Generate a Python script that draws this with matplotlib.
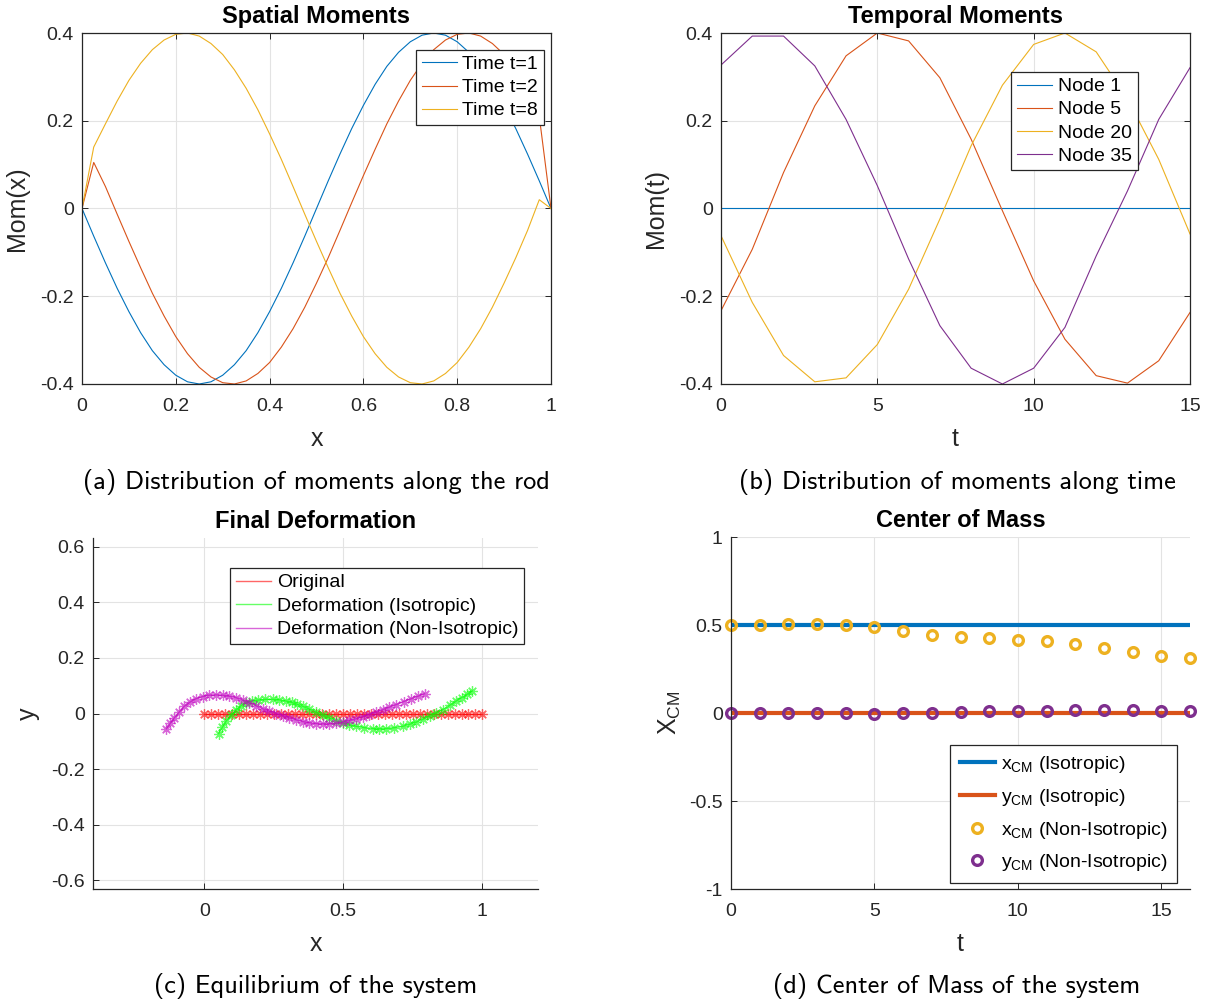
import numpy as np
import matplotlib
matplotlib.use('Agg')
from matplotlib import pyplot as plt

plt.rcParams['font.family'] = ['Liberation Sans', 'DejaVu Sans']
plt.rcParams['mathtext.fontset'] = 'custom'
plt.rcParams['mathtext.rm'] = 'Liberation Sans'
plt.rcParams['mathtext.it'] = 'Liberation Sans:italic'
plt.rcParams['mathtext.bf'] = 'Liberation Sans:bold'

# matlab default colour order
C_BLUE = '#0072BD'
C_ORANGE = '#D95319'
C_YELLOW = '#EDB120'
C_PURPLE = '#7E2F8E'
AX_COL = '#262626'
GRID_COL = '#e3e3e3'

# =============================================================================
# data
# =============================================================================
# rod nodes (41 nodes along x in [0,1])
x_nodes = np.linspace(0, 1, 41)

# spatial moments at three time steps
mom_t1 = [0.0, -0.063, -0.124, -0.182, -0.235, -0.283, -0.324, -0.356, -0.380, -0.395,
          -0.400, -0.395, -0.380, -0.356, -0.324, -0.283, -0.235, -0.182, -0.124, -0.063,
          0.0, 0.063, 0.124, 0.182, 0.235, 0.283, 0.324, 0.356, 0.380, 0.395,
          0.400, 0.395, 0.380, 0.356, 0.324, 0.283, 0.235, 0.182, 0.124, 0.063, 0.0]
mom_t2 = [0.0, 0.105, 0.050, -0.013, -0.075, -0.135, -0.193, -0.245, -0.292, -0.331,
          -0.362, -0.384, -0.397, -0.400, -0.393, -0.376, -0.351, -0.316, -0.274, -0.225,
          -0.170, -0.112, -0.050, 0.013, 0.075, 0.135, 0.193, 0.245, 0.292, 0.331,
          0.362, 0.384, 0.397, 0.400, 0.393, 0.376, 0.351, 0.316, 0.274, 0.210, 0.0]
mom_t8 = [0.0, 0.140, 0.193, 0.245, 0.292, 0.331, 0.362, 0.384, 0.397, 0.400,
          0.393, 0.376, 0.351, 0.316, 0.274, 0.225, 0.170, 0.112, 0.050, -0.013,
          -0.075, -0.135, -0.193, -0.245, -0.292, -0.331, -0.362, -0.384, -0.397, -0.400,
          -0.393, -0.376, -0.351, -0.316, -0.274, -0.225, -0.170, -0.112, -0.050, 0.020, 0.0]

# temporal moments at four nodes
t_steps = list(range(16))
mom_n1 = [0.0] * 16
mom_n5 = [-0.233, -0.093, 0.082, 0.234, 0.348, 0.400, 0.382, 0.298,
          0.158, -0.005, -0.165, -0.298, -0.381, -0.398, -0.347, -0.237]
mom_n20 = [-0.062, -0.214, -0.335, -0.395, -0.386, -0.310, -0.184, -0.024,
           0.143, 0.281, 0.374, 0.400, 0.357, 0.250, 0.112, -0.058]
mom_n35 = [0.327, 0.393, 0.393, 0.325, 0.203, 0.052, -0.115, -0.267,
           -0.364, -0.400, -0.364, -0.271, -0.108, 0.040, 0.203, 0.321]

# final deformation of the rod
orig_y = [0.0] * 41
iso_x = [0.052, 0.065, 0.078, 0.096, 0.114, 0.132, 0.150, 0.171, 0.192, 0.219,
         0.246, 0.270, 0.294, 0.314, 0.334, 0.354, 0.378, 0.402, 0.426, 0.450,
         0.474, 0.498, 0.522, 0.546, 0.576, 0.606, 0.630, 0.654, 0.684, 0.714,
         0.738, 0.762, 0.786, 0.810, 0.834, 0.858, 0.882, 0.906, 0.925, 0.945, 0.964]
iso_y = [-0.072, -0.050, -0.028, -0.007, 0.014, 0.028, 0.039, 0.045, 0.048, 0.051,
         0.051, 0.049, 0.045, 0.040, 0.033, 0.026, 0.016, 0.005, -0.006, -0.016,
         -0.026, -0.034, -0.041, -0.046, -0.051, -0.054, -0.055, -0.054, -0.051, -0.046,
         -0.039, -0.031, -0.021, -0.010, 0.002, 0.014, 0.029, 0.045, 0.057, 0.069, 0.081]
aniso_x = [-0.136, -0.122, -0.108, -0.090, -0.072, -0.051, -0.030, -0.006, 0.018, 0.042,
           0.066, 0.090, 0.114, 0.138, 0.162, 0.186, 0.210, 0.234, 0.258, 0.282,
           0.306, 0.330, 0.354, 0.378, 0.402, 0.426, 0.450, 0.474, 0.498, 0.522,
           0.546, 0.570, 0.594, 0.618, 0.642, 0.666, 0.690, 0.717, 0.744, 0.768, 0.792]
aniso_y = [-0.055, -0.035, -0.016, 0.005, 0.026, 0.041, 0.053, 0.061, 0.066, 0.067,
           0.066, 0.062, 0.057, 0.048, 0.039, 0.028, 0.017, 0.008, 0.000, -0.008,
           -0.016, -0.023, -0.029, -0.033, -0.036, -0.037, -0.037, -0.035, -0.031, -0.025,
           -0.019, -0.012, -0.004, 0.005, 0.014, 0.023, 0.032, 0.043, 0.053, 0.062, 0.071]

# centre of mass history
t_cm = list(range(17))
xcm_iso = [0.5] * 17
ycm_iso = [0.0] * 17
xcm_aniso = [0.500, 0.500, 0.504, 0.507, 0.500, 0.487, 0.468, 0.445, 0.432,
             0.424, 0.416, 0.407, 0.390, 0.369, 0.344, 0.325, 0.312]
ycm_aniso = [0.000, -0.002, -0.002, -0.002, -0.002, -0.003, -0.002, 0.002, 0.006,
             0.009, 0.011, 0.013, 0.015, 0.017, 0.015, 0.012, 0.010]

# =============================================================================
# figure
# =============================================================================
W, H = 1209, 1005
fig = plt.figure(figsize=(W / 100, H / 100), dpi=100)


def px_axes(left, top, right, bottom):
    # axes placed from pixel edges
    return fig.add_axes([left / W, 1 - bottom / H, (right - left) / W, (bottom - top) / H])


def style_axes(ax, box=True):
    ax.grid(True, color=GRID_COL, lw=0.8)
    ax.set_axisbelow(True)
    for s in ax.spines.values():
        s.set_color(AX_COL)
        s.set_linewidth(0.9)
    if not box:
        ax.spines['top'].set_visible(False)
        ax.spines['right'].set_visible(False)
    ax.tick_params(direction='in', length=4, width=0.7, colors=AX_COL,
                   labelsize=14, top=box, right=box)
    ax.tick_params(axis='x', pad=10)
    ax.tick_params(axis='y', pad=6)


def legend(ax, loc, anchor, spacing=0.28, bpad=0.3, **kw):
    lg = ax.legend(loc=loc, bbox_to_anchor=anchor, borderaxespad=0, fontsize=14,
                   fancybox=False, framealpha=1, edgecolor=AX_COL, handlelength=1.8,
                   handletextpad=0.3, labelspacing=spacing, borderpad=bpad, **kw)
    lg.get_frame().set_linewidth(0.9)
    return lg


TITLE_KW = dict(fontsize=17, fontweight='bold', pad=7)
LABEL_KW = dict(fontsize=18, color=AX_COL)
CAP_KW = dict(fontsize=19, family='cmss10', ha='center', va='center')

# (a) spatial moments
ax = px_axes(82, 33, 551, 384)
ax.plot(x_nodes, mom_t1, color=C_BLUE, lw=0.8, label='Time t=1')
ax.plot(x_nodes, mom_t2, color=C_ORANGE, lw=0.8, label='Time t=2')
ax.plot(x_nodes, mom_t8, color=C_YELLOW, lw=0.8, label='Time t=8')
ax.set_xlim(0, 1)
ax.set_ylim(-0.4, 0.4)
ax.set_xticks([0, 0.2, 0.4, 0.6, 0.8, 1])
ax.set_xticklabels(['0', '0.2', '0.4', '0.6', '0.8', '1'])
ax.set_yticks([-0.4, -0.2, 0, 0.2, 0.4])
ax.set_yticklabels(['-0.4', '-0.2', '0', '0.2', '0.4'])
style_axes(ax)
ax.set_title('Spatial Moments', **TITLE_KW)
ax.set_xlabel('x', labelpad=9, **LABEL_KW)
ax.set_ylabel('Mom(x)', labelpad=8, **LABEL_KW)
legend(ax, 'upper right', (0.985, 0.952))

# (b) temporal moments
ax = px_axes(721, 33, 1190, 384)
ax.plot(t_steps, mom_n1, color=C_BLUE, lw=0.8, label='Node 1')
ax.plot(t_steps, mom_n5, color=C_ORANGE, lw=0.8, label='Node 5')
ax.plot(t_steps, mom_n20, color=C_YELLOW, lw=0.8, label='Node 20')
ax.plot(t_steps, mom_n35, color=C_PURPLE, lw=0.8, label='Node 35')
ax.set_xlim(0, 15)
ax.set_ylim(-0.4, 0.4)
ax.set_xticks([0, 5, 10, 15])
ax.set_yticks([-0.4, -0.2, 0, 0.2, 0.4])
ax.set_yticklabels(['-0.4', '-0.2', '0', '0.2', '0.4'])
style_axes(ax)
ax.set_title('Temporal Moments', **TITLE_KW)
ax.set_xlabel('t', labelpad=9, **LABEL_KW)
ax.set_ylabel('Mom(t)', labelpad=8, **LABEL_KW)
legend(ax, 'upper right', (0.889, 0.889))

# (c) final deformation
ax = px_axes(93, 538, 538, 889)
ast = (8, 2, 0)
ax.plot(x_nodes, orig_y, color='r', alpha=0.6, lw=1, marker=ast, ms=7.5, mew=0.9,
        label='Original')
ax.plot(iso_x, iso_y, color='#00ff00', alpha=0.6, lw=1, marker=ast, ms=7.5, mew=0.9,
        label='Deformation (Isotropic)')
ax.plot(aniso_x, aniso_y, color='m', alpha=0.6, lw=1, marker=ast, ms=7.5, mew=0.9,
        label='Deformation (Non-Isotropic)')
ax.set_xlim(-0.4, 1.2)
ax.set_ylim(-0.631, 0.631)
ax.set_xticks([0, 0.5, 1])
ax.set_xticklabels(['0', '0.5', '1'])
ax.set_yticks([-0.6, -0.4, -0.2, 0, 0.2, 0.4, 0.6])
ax.set_yticklabels(['-0.6', '-0.4', '-0.2', '0', '0.2', '0.4', '0.6'])
style_axes(ax, box=False)
ax.set_title('Final Deformation', **TITLE_KW)
ax.set_xlabel('x', labelpad=9, **LABEL_KW)
ax.set_ylabel('y', labelpad=8, **LABEL_KW)
lg = legend(ax, 'upper right', (0.9685, 0.9145), spacing=0.3)
for h in lg.get_lines():
    h.set_marker('')

# (d) centre of mass
ax = px_axes(731, 537, 1190, 889)
ax.plot(t_cm, xcm_iso, color=C_BLUE, lw=3, label=r'x$_{\mathrm{CM}}$ (Isotropic)')
ax.plot(t_cm, ycm_iso, color=C_ORANGE, lw=3, label=r'y$_{\mathrm{CM}}$ (Isotropic)')
ax.plot(t_cm, xcm_aniso, ls='none', marker='o', ms=7, mfc='none', mec=C_YELLOW, mew=2.4,
        label=r'x$_{\mathrm{CM}}$ (Non-Isotropic)', clip_on=False)
ax.plot(t_cm, ycm_aniso, ls='none', marker='o', ms=7, mfc='none', mec=C_PURPLE, mew=2.4,
        label=r'y$_{\mathrm{CM}}$ (Non-Isotropic)', clip_on=False)
ax.set_xlim(0, 16)
ax.set_ylim(-1, 1)
ax.set_xticks([0, 5, 10, 15])
ax.set_yticks([-1, -0.5, 0, 0.5, 1])
ax.set_yticklabels(['-1', '-0.5', '0', '0.5', '1'])
style_axes(ax, box=False)
ax.set_title('Center of Mass', **TITLE_KW)
ax.set_xlabel('t', labelpad=9, **LABEL_KW)
ax.set_ylabel(r'X$_{\mathrm{CM}}$', labelpad=4, **LABEL_KW)
legend(ax, 'lower right', (0.972, 0.017), spacing=0.6, bpad=0.5)

# sub-figure captions
fig.text(316, H - 482, '(a) Distribution of moments along the rod', transform=None, **CAP_KW)
fig.text(957, H - 482, '(b) Distribution of moments along time', transform=None, **CAP_KW)
fig.text(316, H - 986, '(c) Equilibrium of the system', transform=None, **CAP_KW)
fig.text(957, H - 986, '(d) Center of Mass of the system', transform=None, **CAP_KW)

fig.savefig('out.png', dpi=100)
